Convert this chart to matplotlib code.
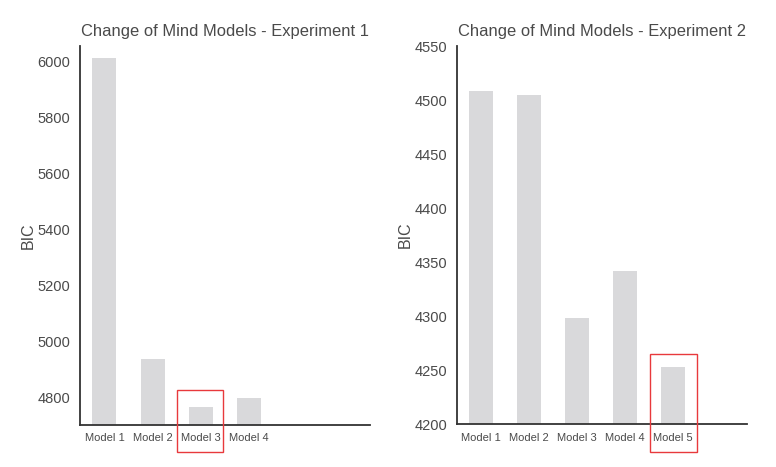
import matplotlib
matplotlib.use("Agg")
import matplotlib.pyplot as plt
import matplotlib.transforms as mtransforms
from matplotlib.patches import Rectangle

plt.rcParams['font.family'] = ['Liberation Sans', 'DejaVu Sans']

exp1_models = ["Model 1", "Model 2", "Model 3", "Model 4"]
exp1_bic = [6011, 4936, 4763, 4795]
exp2_models = ["Model 1", "Model 2", "Model 3", "Model 4", "Model 5"]
exp2_bic = [4508, 4505, 4298, 4342, 4253]
exp1_title = "Change of Mind Models - Experiment 1"
exp2_title = "Change of Mind Models - Experiment 2"
exp1_yticks = [4800, 5000, 5200, 5400, 5600, 5800, 6000]
exp2_yticks = [4200, 4250, 4300, 4350, 4400, 4450, 4500, 4550]

BAR = "#d9d9db"
TXT = "#4a4a4a"
SPINE = "#333333"
RED = "#e8393c"

fig = plt.figure(figsize=(7.76, 4.67), dpi=100)
ax1 = fig.add_axes([0.1031, 0.0899, 0.3737, 0.8116])
ax2 = fig.add_axes([0.5885, 0.0914, 0.3737, 0.8100])

def style(ax, models, vals, yticks, ylim, title):
    x = list(range(len(models)))
    ax.bar(x, vals, width=0.5, color=BAR, zorder=2)
    ax.set_xlim(-0.51, 5.53)
    ax.set_ylim(*ylim)
    ax.set_xticks(x)
    ax.set_xticklabels(models, fontsize=8, color=TXT)
    ax.set_yticks(yticks)
    ax.set_yticklabels([str(t) for t in yticks], fontsize=10.5, color=TXT)
    ax.tick_params(length=0, pad=7)
    ax.tick_params(axis='x', pad=6)
    for s in ["top", "right"]:
        ax.spines[s].set_visible(False)
    for s in ["left", "bottom"]:
        ax.spines[s].set_color(SPINE)
        ax.spines[s].set_linewidth(1.3)
    ax.set_ylabel("BIC", fontsize=11.5, color=TXT, labelpad=1)
    ax.set_title(title, fontsize=11.9, color=TXT, loc='center', pad=7)
    return ax

style(ax1, exp1_models, exp1_bic, exp1_yticks, (4700, 6055), exp1_title)
style(ax2, exp2_models, exp2_bic, exp2_yticks, (4200, 4550), exp2_title)

# highlight boxes around best models
tr1 = mtransforms.blended_transform_factory(ax1.transData, ax1.transAxes)
ax1.add_patch(Rectangle((1.50, -0.070), 0.975, 0.162, transform=tr1,
                        fill=False, edgecolor=RED, linewidth=1.0, clip_on=False, zorder=5))
tr2 = mtransforms.blended_transform_factory(ax2.transData, ax2.transAxes)
ax2.add_patch(Rectangle((3.52, -0.072), 0.98, 0.257, transform=tr2,
                        fill=False, edgecolor=RED, linewidth=1.0, clip_on=False, zorder=5))

fig.savefig("out.png", dpi=100, facecolor="white")
